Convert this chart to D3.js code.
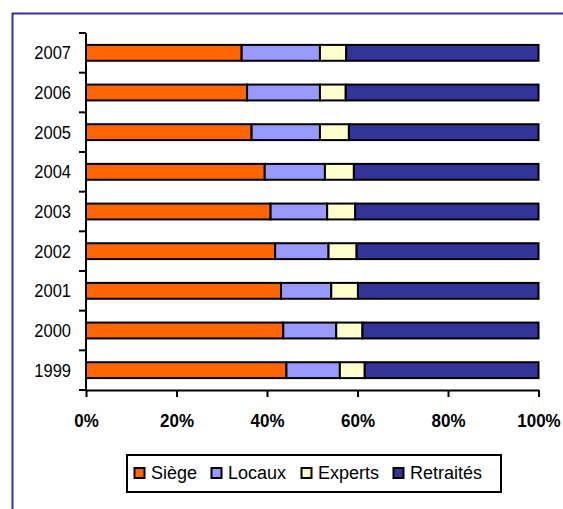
<!DOCTYPE html>
<html>
<head>
<meta charset="utf-8">
<script src="https://cdn.jsdelivr.net/npm/d3@7"></script>
<style>
html,body{margin:0;padding:0;background:#fff;}
svg{display:block;}
text{font-family:Arial,"Liberation Sans",sans-serif;}
</style>
</head>
<body>
<svg id="chart" width="563" height="509"></svg>
<script>
const years = ["1999","2000","2001","2002","2003","2004","2005","2006","2007"];
const siege     = [44.3, 43.6, 43.1, 41.8, 40.8, 39.5, 36.6, 35.6, 34.4];
const locaux    = [11.8, 11.7, 11.1, 11.8, 12.5, 13.3, 15.1, 16.1, 17.3];
const experts   = [ 5.5,  5.8,  5.9,  6.2,  6.2,  6.4,  6.4,  5.7,  5.8];
const retraites = [38.4, 38.9, 39.9, 40.2, 40.5, 40.8, 41.9, 42.6, 42.5];
const seriesNames = ["Siège","Locaux","Experts","Retraités"];
const colors = ["#FF6600","#9999FF","#FFFFCC","#333399"];
const xTicks = [0, 0.2, 0.4, 0.6, 0.8, 1];

(function(){
const table = years.map((yr,i)=>({year:yr, "Siège":siege[i], "Locaux":locaux[i], "Experts":experts[i], "Retraités":retraites[i]}));
const stacked = d3.stack().keys(seriesNames).offset(d3.stackOffsetExpand)(table);

const svg = d3.select("#chart");
svg.append("rect").attr("x",12.5).attr("y",13.5).attr("width",600).attr("height",600)
  .attr("fill","none").attr("stroke","#333399").attr("stroke-width",2);

const pLeft = 86, pRight = 538.5, pTop = 33, pBottom = 390;
const x = d3.scaleLinear().domain([0,1]).range([pLeft,pRight]);
const y = d3.scaleBand().domain(years).range([pBottom, pTop]).paddingInner(0.6).paddingOuter(0.3);
const step = y.step();

svg.append("g").selectAll("g").data(stacked).join("g")
  .attr("fill",(d,i)=>colors[i])
  .selectAll("rect").data(d=>d).join("rect")
  .attr("x",d=>x(d[0])).attr("y",d=>y(d.data.year))
  .attr("width",d=>x(d[1])-x(d[0])).attr("height",y.bandwidth())
  .attr("stroke","#000").attr("stroke-width",2);

// y axis
const bounds = [y(years[0])+y.bandwidth()/2+step/2].concat(years.map(yr=>y(yr)+y.bandwidth()/2-step/2));
svg.append("line").attr("x1",pLeft).attr("x2",pLeft).attr("y1",pTop).attr("y2",pBottom)
  .attr("stroke","#000").attr("stroke-width",2);
svg.selectAll("line.ytick").data(bounds).join("line").attr("class","ytick")
  .attr("x1",pLeft-7).attr("x2",pLeft).attr("y1",d=>d).attr("y2",d=>d)
  .attr("stroke","#000").attr("stroke-width",2);
svg.selectAll("text.ylab").data(years).join("text").attr("class","ylab")
  .attr("transform",d=>`translate(71,${y(d)+y.bandwidth()/2}) scale(1,1.08)`)
  .attr("dy","0.36em")
  .attr("text-anchor","end").attr("font-size",16.5).text(d=>d);

// x axis
const xa = svg.append("g").attr("transform",`translate(0,${pBottom})`)
  .call(d3.axisBottom(x).tickValues(xTicks).tickFormat(d3.format(".0%")).tickSize(7).tickSizeOuter(0));
xa.select(".domain").attr("stroke","#000").attr("stroke-width",2);
xa.selectAll(".tick line").attr("stroke","#000").attr("stroke-width",2);
xa.selectAll(".tick text").attr("y",0).attr("dy",null).attr("transform","translate(0,37) scale(1,1.12)")
  .attr("font-size",17).attr("font-weight","bold")
  .attr("font-family","Arial, 'Liberation Sans', sans-serif").attr("fill","#000");

// legend
svg.append("rect").attr("x",127).attr("y",455).attr("width",374).attr("height",37)
  .attr("fill","#fff").attr("stroke","#000").attr("stroke-width",2);
const legX = [134, 211, 301, 393];
const lg = svg.selectAll("g.leg").data(seriesNames).join("g").attr("class","leg")
  .attr("transform",(d,i)=>`translate(${legX[i]},473)`);
lg.append("rect").attr("x",0.5).attr("y",-5).attr("width",10).attr("height",10)
  .attr("fill",(d,i)=>colors[i]).attr("stroke","#000").attr("stroke-width",2);
lg.append("text").attr("x",17).attr("y",0).attr("dy","0.36em").attr("font-size",18).text(d=>d);
})();
</script>
</body>
</html>
